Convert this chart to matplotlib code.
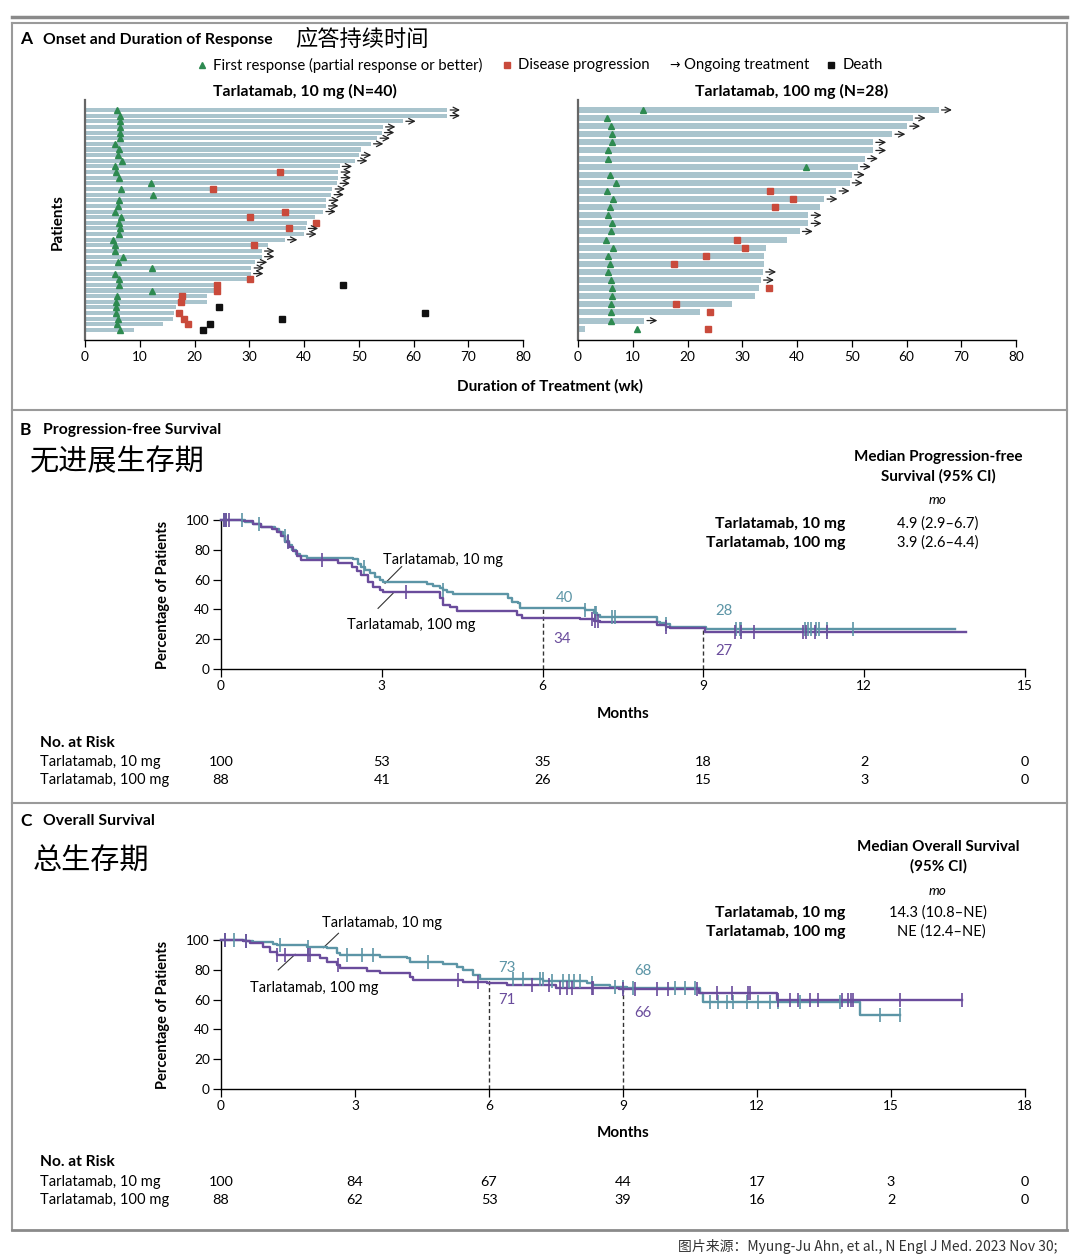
"""Tarlatamab figure: swimmer plot, PFS and OS Kaplan-Meier curves."""

import numpy as np
import matplotlib.pyplot as plt
import matplotlib.transforms as mtransforms
from matplotlib.lines import Line2D

W, H = 1080, 1260
plt.rcParams['font.family'] = ['Lato', 'Noto Sans CJK SC', 'DejaVu Sans']

TEAL = '#5c95a6'
PURPLE = '#6a4c9c'
BAR = '#a9c4cd'
GREEN = '#2d8a50'
RED = '#c94a3b'

# ---- panel A: swimmer data (rows top to bottom, weeks) ----
L_END = [66.2, 66.2, 58.1, 54.4, 54.2, 53.4, 52.2, 50.4, 50.0, 49.3,
         46.5, 46.3, 46.3, 46.1, 45.2, 45.0, 44.1, 44.0, 43.5, 42.0,
         40.5, 40.3, 40.0, 36.5, 33.5, 32.3, 32.3, 31.0, 30.4, 30.3,
         29.8, 24.0, 23.5, 22.2, 22.2, 16.7, 16.3, 16.0, 14.3, 9.0]
L_RESP = [5.8, 6.4, 6.4, 6.4, 6.4, 6.4, 5.5, 6.2, 6.0, 6.7,
          5.5, 5.7, 6.3, 12.1, 6.6, 12.4, 6.3, 6.0, 5.4, 6.6,
          6.3, 6.4, 6.3, 5.1, 5.5, 5.5, 7.0, 6.1, 12.3, 5.5,
          6.3, 6.3, 12.3, 5.8, 5.7, 5.7, 5.7, 6.0, 5.8, 6.4]
L_ONGOING = [0, 1, 2, 3, 4, 5, 6, 8, 9, 10, 11, 12, 13, 14, 15, 16, 17, 18,
             21, 22, 23, 25, 26, 27, 28, 29]
L_PROG_ROW = [11, 14, 18, 19, 20, 21, 24, 30, 31, 32, 33, 34, 36, 37, 38]
L_PROG_WK = [35.6, 23.3, 36.5, 30.2, 42.2, 37.3, 30.9, 30.1, 24.2, 24.2,
             17.7, 17.5, 17.2, 18.0, 18.8]
L_DEATH_ROW = [31, 35, 36, 37, 38, 39]
L_DEATH_WK = [47.1, 24.4, 62.1, 35.9, 22.8, 21.5]

R_END = [65.9, 61.1, 60.1, 57.4, 53.9, 53.9, 52.4, 51.1, 50.0, 49.6,
         47.2, 45.0, 44.2, 42.1, 42.1, 40.5, 38.1, 34.3, 34.0, 34.0,
         33.8, 33.4, 33.1, 32.3, 28.2, 22.3, 12.1, 1.2]
R_RESP = [11.8, 5.3, 6.0, 6.2, 6.2, 5.4, 5.4, 41.6, 5.8, 7.0,
          5.3, 6.4, 5.8, 5.5, 6.3, 6.0, 5.1, 6.4, 5.4, 5.8,
          5.5, 6.0, 6.3, 6.3, 6.0, 6.0, 6.1, 10.8]
R_ONGOING = [0, 1, 2, 3, 4, 5, 6, 7, 8, 9, 10, 11, 13, 14, 15, 20, 21, 26]
R_PROG_ROW = [10, 11, 12, 16, 17, 18, 19, 22, 24, 25, 27]
R_PROG_WK = [35.1, 39.3, 36.0, 29.1, 30.5, 23.4, 17.5, 34.9, 17.9, 24.2, 23.8]

# ---- panel B: progression-free survival ----
PFS_T_10 = [0, 0.45, 0.6, 0.75, 1.0, 1.08, 1.15, 1.2, 1.27, 1.33, 1.4, 1.47,
            1.6, 2.47, 2.56, 2.62, 2.69, 2.78, 2.87, 2.97, 3.03, 3.84, 3.96,
            4.09, 4.15, 4.21, 4.33, 5.36, 5.42, 5.55, 5.58, 6.79, 6.95, 7.01,
            7.07, 8.13, 8.19, 8.31, 8.38, 9.05, 13.7]
PFS_S_10 = [100, 98.5, 97, 95.5, 94, 92, 89, 86, 83, 80, 77.5, 76,
            74.7, 73.6, 70.5, 68.5, 66.4, 64.2, 62, 59.7, 58.2, 56.8, 55.7,
            54.2, 53, 51.5, 50.1, 47.4, 45.2, 44, 40.7, 39.6, 37.4, 36.2,
            34.7, 31.7, 30.7, 30.2, 28.4, 26.6, 26.6]
PFS_T_100 = [0, 0.4, 0.6, 0.75, 0.95, 1.05, 1.12, 1.2, 1.27, 1.35, 1.42, 1.5,
             2.19, 2.45, 2.53, 2.62, 2.75, 2.84, 2.97, 3.03, 4.09, 4.15, 4.27,
             4.4, 5.52, 5.61, 6.7, 6.95, 7.07, 8.13, 8.31, 8.38, 9.03, 13.9]
PFS_S_100 = [100, 99, 97, 95.5, 94, 92, 89, 85, 82, 79, 76, 73.2,
             70.9, 68.7, 66, 63.1, 58.6, 55.2, 53, 51.5, 47.4, 43, 41.8,
             38.9, 36.2, 34, 33.3, 32.4, 31.7, 29.5, 28.4, 27.3, 25.0, 25.0]
PFS_CENS_10 = [0.05, 0.1, 0.39, 0.7, 1.19, 1.25, 2.66, 4.15, 6.79, 6.97, 7.0,
               7.3, 7.35, 8.31, 9.6, 9.68, 9.71, 10.9, 10.95, 11.0, 11.1,
               11.15, 11.3, 11.8]
PFS_CENS_100 = [0.05, 0.1, 0.15, 1.25, 1.88, 3.46, 6.92, 6.98, 7.04, 8.31,
                9.59, 9.71, 9.95, 10.86, 10.92, 11.08, 11.3]
PFS_RISK_10 = [100, 53, 35, 18, 2, 0]
PFS_RISK_100 = [88, 41, 26, 15, 3, 0]

# ---- panel C: overall survival ----
OS_T_10 = [0, 0.57, 0.72, 1.17, 1.25, 1.92, 2.37, 2.59, 2.66, 3.56, 4.16,
           4.24, 4.98, 5.28, 5.42, 5.65, 5.8, 7.22, 8.19, 8.33, 8.7, 9.1,
           10.72, 10.8, 14.3, 15.2]
OS_S_10 = [100, 99.3, 98.7, 97.1, 96.6, 95.5, 94.8, 91.1, 89.9, 88.8, 87.7,
           85, 83.7, 82.1, 79.9, 76.5, 73.8, 72.5, 70.9, 69.8, 68.7, 67.6,
           64.2, 58.6, 49.7, 49.7]
OS_T_100 = [0, 0.5, 0.65, 0.95, 1.1, 1.25, 2.22, 2.37, 2.59, 2.66, 3.11,
            3.26, 3.56, 4.23, 4.3, 5.42, 5.95, 6.4, 7.5, 8.9, 10.7, 12.44,
            16.58]
OS_S_100 = [100, 99, 97.8, 95.5, 92.2, 89.9, 87.7, 85.4, 83.2, 81.4, 81,
            79.2, 77.6, 75.4, 73.2, 71.6, 71, 69.8, 67.6, 66.9, 64.6, 59.7,
            59.7]
OS_CENS_10 = [0.1, 0.3, 0.57, 1.32, 1.95, 2.81, 3.15, 3.41, 4.64, 6.54, 6.77,
              7.14, 7.2, 7.4, 7.65, 7.8, 7.9, 8.04, 8.3, 8.82, 9.0, 9.22,
              10.16, 10.39, 10.61, 10.95, 11.13, 11.32, 11.47, 11.77, 12.03,
              12.29, 12.48, 12.96, 13.86, 14.75, 15.2]
OS_CENS_100 = [0.1, 0.57, 1.25, 1.43, 1.95, 2.0, 2.63, 5.31, 5.76, 6.96,
               7.35, 7.6, 7.75, 7.85, 8.3, 8.33, 9.0, 9.27, 9.75, 10.01,
               10.65, 11.1, 11.43, 11.8, 11.85, 12.48, 12.74, 12.92, 13.19,
               13.37, 13.9, 14.04, 14.1, 14.15, 15.2, 16.58]
OS_RISK_10 = [100, 84, 67, 44, 17, 3, 0]
OS_RISK_100 = [88, 62, 53, 39, 16, 2, 0]


def rect(x0, y0, x1, y1):
    """Pixel box (top-left origin) -> figure fraction rect."""
    return [x0 / W, 1 - y1 / H, (x1 - x0) / W, (y1 - y0) / H]


def ftext(x, y, s, **kw):
    kw.setdefault('va', 'center')
    fig.text(x / W, 1 - y / H, s, **kw)


def fline(xs, ys, **kw):
    fig.add_artist(Line2D([x / W for x in xs], [1 - y / H for y in ys],
                          transform=fig.transFigure, **kw))


def surv_at(ts, ss, x):
    idx = np.searchsorted(ts, x, side='right') - 1
    return np.asarray(ss)[idx]


def swimmer(ax, ends, resp, ongoing, prog_row, prog_wk, death_row=(), death_wk=(),
            height=0.72, arrow_len=1.6):
    n = len(ends)
    rows = np.arange(n)
    ax.barh(rows, ends, height=height, color=BAR, edgecolor='none', zorder=1)
    ax.plot(resp, rows, ls='none', marker='^', ms=5, color=GREEN, zorder=3)
    ax.plot(prog_wk, prog_row, ls='none', marker='s', ms=4.2, color=RED, zorder=3)
    if len(death_row):
        ax.plot(death_wk, death_row, ls='none', marker='s', ms=4.2, color='#111',
                zorder=3)
    for r in ongoing:
        e = ends[r]
        ax.annotate('', xy=(e + 0.5 + arrow_len, r), xytext=(e + 0.5, r),
                    arrowprops=dict(arrowstyle='->', lw=0.9, color='#222',
                                    shrinkA=0, shrinkB=0, mutation_scale=10))
    ax.set_xlim(0, 80)
    ax.set_xticks(range(0, 81, 10))
    ax.set_yticks([])
    for s in ('top', 'right'):
        ax.spines[s].set_visible(False)
    ax.spines['left'].set_color('#666')
    ax.spines['left'].set_linewidth(1.6)
    ax.spines['bottom'].set_linewidth(1.0)
    ax.tick_params(axis='x', direction='out', length=5, width=0.9, pad=3,
                   labelsize=9.8)


def km_axes(ax, xmax, step):
    ax.set_xlim(0, xmax)
    ax.set_ylim(0, 100)
    ax.set_xticks(range(0, xmax + 1, step))
    ax.set_yticks(range(0, 101, 20))
    for s in ('top', 'right'):
        ax.spines[s].set_visible(False)
    for s in ('left', 'bottom'):
        ax.spines[s].set_linewidth(1.0)
    ax.tick_params(direction='out', length=6, width=0.9, pad=2, labelsize=9.8)
    ax.patch.set_alpha(0)


def km_curve(ax, ts, ss, cens, color):
    ax.step(ts, ss, where='post', color=color, lw=1.7, clip_on=False, zorder=3)
    ax.plot(cens, surv_at(ts, ss, cens), ls='none', marker='|', ms=10, mew=1.2,
            color=color, clip_on=False, zorder=4)


def risk_table(ax, months, risk10, risk100, y_head, y1, y2):
    trans = mtransforms.blended_transform_factory(ax.transData, fig.transFigure)
    ftext(40, y_head, 'No. at Risk', fontsize=11.2, fontweight='bold')
    ftext(40, y1, 'Tarlatamab, 10 mg', fontsize=10.6)
    ftext(40, y2, 'Tarlatamab, 100 mg', fontsize=10.6)
    for m, a, b in zip(months, risk10, risk100):
        ax.text(m, 1 - y1 / H, str(a), transform=trans, ha='center', va='center',
                fontsize=10.4, clip_on=False)
        ax.text(m, 1 - y2 / H, str(b), transform=trans, ha='center', va='center',
                fontsize=10.4, clip_on=False)


fig = plt.figure(figsize=(W / 100, H / 100), dpi=100)

# ---- frames ----
frame = dict(color='#9a9a9a', lw=1.5)
fline([12, 1067], [17, 17], color='#8a8a8a', lw=2.5)
fline([12, 1067], [23, 23], **frame)
fline([12, 12], [23, 1230], **frame)
fline([1067, 1067], [23, 1230], **frame)
fline([12, 1067], [410, 410], **frame)
fline([12, 1067], [803, 803], **frame)
fline([12, 1067], [1230, 1230], color='#8a8a8a', lw=2)

# ---- panel A ----
ftext(20, 39, 'A', fontsize=12.5, fontweight='bold')
ftext(43, 40, 'Onset and Duration of Response', fontsize=11.3, fontweight='bold')
ftext(295, 39, '应答持续时间', fontsize=16, family=['Noto Sans CJK SC'])

leg_y = 65
fig.add_artist(Line2D([202 / W], [1 - leg_y / H], marker='^', ms=5, color=GREEN,
                      transform=fig.transFigure))
ftext(213, leg_y, 'First response (partial response or better)', fontsize=10.7)
fig.add_artist(Line2D([507 / W], [1 - leg_y / H], marker='s', ms=4.2, color=RED,
                      transform=fig.transFigure))
ftext(518, leg_y, 'Disease progression', fontsize=10.7)
ftext(669, leg_y, '→', fontsize=9, family=['DejaVu Sans'])
ftext(684, leg_y, 'Ongoing treatment', fontsize=10.7)
fig.add_artist(Line2D([831 / W], [1 - leg_y / H], marker='s', ms=4.2, color='#111',
                      transform=fig.transFigure))
ftext(843, leg_y, 'Death', fontsize=10.7)

ftext(305, 91, 'Tarlatamab, 10 mg (N=40)', fontsize=11.4, fontweight='bold',
      ha='center')
ftext(792, 91, 'Tarlatamab, 100 mg (N=28)', fontsize=11.4, fontweight='bold',
      ha='center')

axL = fig.add_axes(rect(85, 100, 523, 340))
swimmer(axL, L_END, L_RESP, L_ONGOING, L_PROG_ROW, L_PROG_WK,
        L_DEATH_ROW, L_DEATH_WK, height=0.72, arrow_len=1.8)
axL.set_ylim(40.77, -1.77)

axR = fig.add_axes(rect(578, 100, 1016, 340))
swimmer(axR, R_END, R_RESP, R_ONGOING, R_PROG_ROW, R_PROG_WK,
        height=0.74, arrow_len=1.9)
axR.set_ylim(28.4, -1.23)

ftext(58, 222, 'Patients', fontsize=11, fontweight='bold', rotation=90,
      ha='center')
ftext(550, 386, 'Duration of Treatment (wk)', fontsize=11, fontweight='bold',
      ha='center')

# ---- panel B ----
ftext(20, 430, 'B', fontsize=12.5, fontweight='bold')
ftext(43, 430, 'Progression-free Survival', fontsize=11.3, fontweight='bold')
ftext(30, 462, '无进展生存期', fontsize=21, family=['Noto Sans CJK SC'])

axB = fig.add_axes(rect(221, 520, 1025, 669))
km_axes(axB, 15, 3)
km_curve(axB, PFS_T_10, PFS_S_10, PFS_CENS_10, TEAL)
km_curve(axB, PFS_T_100, PFS_S_100, PFS_CENS_100, PURPLE)
axB.plot([6, 6], [0, surv_at(PFS_T_10, PFS_S_10, 6)], ls=(0, (3, 2)),
         color='#333', lw=1)
axB.plot([9, 9], [0, surv_at(PFS_T_100, PFS_S_100, 9)], ls=(0, (3, 2)),
         color='#333', lw=1)
axB.text(6.25, 47.5, '40', color=TEAL, fontsize=10.8, va='center')
axB.text(6.2, 20, '34', color=PURPLE, fontsize=10.8, va='center')
axB.text(9.22, 39, '28', color=TEAL, fontsize=10.8, va='center')
axB.text(9.22, 12, '27', color=PURPLE, fontsize=10.8, va='center')
axB.text(3.02, 73.2, 'Tarlatamab, 10 mg', fontsize=10.5, va='center')
axB.plot([3.37, 3.06], [68.7, 57.5], color='#333', lw=0.8)
axB.text(2.35, 29.5, 'Tarlatamab, 100 mg', fontsize=10.5, va='center')
axB.plot([2.93, 3.21], [40.7, 50.8], color='#333', lw=0.8)

ftext(163, 595, 'Percentage of Patients', fontsize=10.5, fontweight='bold',
      rotation=90, ha='center')
ftext(623, 714, 'Months', fontsize=11, fontweight='bold', ha='center')

ftext(938, 457, 'Median Progression-free', fontsize=11, fontweight='bold',
      ha='center')
ftext(938, 476, 'Survival (95% CI)', fontsize=11, fontweight='bold', ha='center')
ftext(938, 500, 'mo', fontsize=9.8, style='italic', ha='center')
ftext(845, 524, 'Tarlatamab, 10 mg', fontsize=11.3, fontweight='bold', ha='right')
ftext(845, 543, 'Tarlatamab, 100 mg', fontsize=11.3, fontweight='bold', ha='right')
ftext(897, 524, '4.9 (2.9–6.7)', fontsize=10.5)
ftext(897, 543, '3.9 (2.6–4.4)', fontsize=10.5)

risk_table(axB, range(0, 16, 3), PFS_RISK_10, PFS_RISK_100, 743, 762, 780)

# ---- panel C ----
ftext(20, 821, 'C', fontsize=12.5, fontweight='bold')
ftext(43, 821, 'Overall Survival', fontsize=11.3, fontweight='bold')
ftext(33, 862, '总生存期', fontsize=21, family=['Noto Sans CJK SC'])

axC = fig.add_axes(rect(221, 940, 1025, 1089))
km_axes(axC, 18, 3)
km_curve(axC, OS_T_10, OS_S_10, OS_CENS_10, TEAL)
km_curve(axC, OS_T_100, OS_S_100, OS_CENS_100, PURPLE)
axC.plot([6, 6], [0, surv_at(OS_T_10, OS_S_10, 6)], ls=(0, (3, 2)),
         color='#333', lw=1)
axC.plot([9, 9], [0, surv_at(OS_T_10, OS_S_10, 9)], ls=(0, (3, 2)),
         color='#333', lw=1)
axC.text(6.2, 81.2, '73', color=TEAL, fontsize=10.8, va='center')
axC.text(6.2, 59.7, '71', color=PURPLE, fontsize=10.8, va='center')
axC.text(9.25, 79.2, '68', color=TEAL, fontsize=10.8, va='center')
axC.text(9.25, 51, '66', color=PURPLE, fontsize=10.8, va='center')
axC.text(2.25, 111.2, 'Tarlatamab, 10 mg', fontsize=10.5, va='center',
         clip_on=False)
axC.plot([2.63, 2.29], [104.5, 94.8], color='#333', lw=0.8, clip_on=False)
axC.text(0.65, 67.6, 'Tarlatamab, 100 mg', fontsize=10.5, va='center')
axC.plot([1.28, 1.66], [79.9, 90.4], color='#333', lw=0.8)

ftext(163, 1015, 'Percentage of Patients', fontsize=10.5, fontweight='bold',
      rotation=90, ha='center')
ftext(623, 1133, 'Months', fontsize=11, fontweight='bold', ha='center')

ftext(938, 847, 'Median Overall Survival', fontsize=11, fontweight='bold',
      ha='center')
ftext(938, 866, '(95% CI)', fontsize=11, fontweight='bold', ha='center')
ftext(938, 891, 'mo', fontsize=9.8, style='italic', ha='center')
ftext(845, 913, 'Tarlatamab, 10 mg', fontsize=11.3, fontweight='bold', ha='right')
ftext(845, 932, 'Tarlatamab, 100 mg', fontsize=11.3, fontweight='bold', ha='right')
ftext(889, 913, '14.3 (10.8–NE)', fontsize=10.5)
ftext(897, 932, 'NE (12.4–NE)', fontsize=10.5)

risk_table(axC, range(0, 19, 3), OS_RISK_10, OS_RISK_100, 1162, 1182, 1200)

# ---- footer ----
ftext(1057, 1247, '图片来源：Myung-Ju Ahn, et al., N Engl J Med. 2023 Nov 30;',
      fontsize=10, color='#333', ha='right',
      family=['Noto Sans CJK SC', 'DejaVu Sans'])

fig.savefig('out.png', dpi=100)
